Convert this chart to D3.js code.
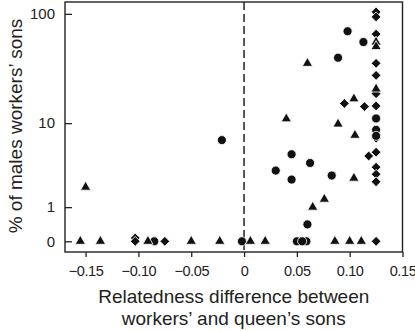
<!DOCTYPE html>
<html>
<head>
<meta charset="utf-8">
<script src="https://cdn.jsdelivr.net/npm/d3@7"></script>
<style>
  body { margin: 0; background: #fff; }
  svg text { font-family: "Liberation Sans", Arial, sans-serif; fill: #222; }
</style>
</head>
<body>
<svg id="chart" width="415" height="331"></svg>
<script>
// relatedness difference (x) and % of males that are workers' sons (y)
var triangleX = [-0.155, -0.136, -0.150, -0.091, -0.050, -0.023, 0.006, 0.020, 0.060, 0.040, 0.089, 0.104, 0.105, 0.104, 0.076, 0.065, 0.086, 0.100, 0.111, 0.125, 0.125, 0.125];
var triangleY = [0, 0, 2.0, 0, 0, 0, 0, 0, 36, 11, 9.8, 17, 7.6, 2.6, 1.35, 1.0, 0, 0, 0, 56, 51, 21];

var circleX = [-0.085, -0.002, -0.021, 0.050, 0.059, 0.055, 0.060, 0.030, 0.045, 0.045, 0.0625, 0.083, 0.089, 0.098, 0.113, 0.125, 0.125, 0.125];
var circleY = [0, 0, 6.8, 0, 0, 0, 0.41, 3.2, 4.85, 2.5, 3.9, 2.8, 40.5, 70, 56, 11.1, 8.6, 7.5];

var diamondX = [-0.103, -0.103, -0.075, 0.095, 0.114, 0.118, 0.125, 0.125, 0.125, 0.125, 0.125, 0.125, 0.125, 0.125, 0.125, 0.125, 0.125, 0.125, 0.125];
var diamondY = [0.07, 0, 0, 15.4, 14.4, 4.65, 104, 94, 66, 36, 28, 19, 14.6, 7.1, 5.1, 3.5, 2.9, 2.35, 0];

var xTicks = [-0.15, -0.10, -0.05, 0, 0.05, 0.10, 0.15];
var yTicks = [0, 1, 10, 100];

var svg = d3.select('#chart');
var plotL = 65, plotR = 402.5, plotT = 2, plotB = 252;

var x = d3.scaleLinear().domain([-0.1695, 0.15]).range([plotL, plotR]);
// log(y + 1) scale, so that 0 can be shown
var y = d3.scaleSymlog().constant(1).domain([-0.242, 127.5]).range([plotB, plotT]);

// x axis
var fmt = d3.format('.2f');
var xAxis = svg.append('g')
    .attr('transform', 'translate(0,' + plotB + ')')
    .call(d3.axisBottom(x).tickValues(xTicks).tickSize(5).tickPadding(9)
        .tickFormat(function(d) { return d === 0 ? '0' : fmt(d); }));
xAxis.select('.domain').remove();
xAxis.selectAll('line').attr('stroke', '#222').attr('stroke-width', 1.3);
xAxis.selectAll('text')
    .attr('font-size', 14.5)
    .attr('letter-spacing', -0.4)
    .attr('fill', '#222');

// y axis, ticks inside
var yAxis = svg.append('g')
    .attr('transform', 'translate(' + plotL + ',0)')
    .call(d3.axisLeft(y).tickValues(yTicks).tickSize(-7).tickPadding(10)
        .tickFormat(d3.format('d')));
yAxis.select('.domain').remove();
yAxis.selectAll('line').attr('stroke', '#222').attr('stroke-width', 1.3);
yAxis.selectAll('text').attr('font-size', 15).attr('fill', '#222');

// zero line
svg.append('line')
    .attr('x1', x(0)).attr('x2', x(0))
    .attr('y1', plotT).attr('y2', plotB)
    .attr('stroke', '#222')
    .attr('stroke-width', 1.5)
    .attr('stroke-dasharray', '8,4');

// frame
svg.append('rect')
    .attr('x', plotL).attr('y', plotT)
    .attr('width', plotR - plotL).attr('height', plotB - plotT)
    .attr('fill', 'none')
    .attr('stroke', '#222')
    .attr('stroke-width', 1.4);

function drawPoints(xs, ys, type, size, rotate) {
    var sym = d3.symbol().type(type).size(size);
    svg.append('g').selectAll('path')
        .data(d3.range(xs.length))
        .enter().append('path')
        .attr('d', sym)
        .attr('transform', function(i) {
            return 'translate(' + x(xs[i]) + ',' + y(ys[i]) + ')' + (rotate ? ' rotate(45)' : '');
        })
        .attr('fill', '#111')
        .attr('stroke', '#fff')
        .attr('stroke-width', 0.8);
}

drawPoints(diamondX, diamondY, d3.symbolSquare, 48, true);
drawPoints(circleX, circleY, d3.symbolCircle, 64, false);
drawPoints(triangleX, triangleY, d3.symbolTriangle, 46, false);

// axis titles
svg.append('text')
    .attr('transform', 'translate(22,126) rotate(-90)')
    .attr('text-anchor', 'middle')
    .attr('font-size', 19)
    .text('% of males workers\u2019 sons');

svg.append('text')
    .attr('x', (plotL + plotR) / 2).attr('y', 303)
    .attr('text-anchor', 'middle')
    .attr('font-size', 19)
    .text('Relatedness difference between');

svg.append('text')
    .attr('x', (plotL + plotR) / 2).attr('y', 325)
    .attr('text-anchor', 'middle')
    .attr('font-size', 19)
    .text('workers\u2019 and queen\u2019s sons');
</script>
</body>
</html>
